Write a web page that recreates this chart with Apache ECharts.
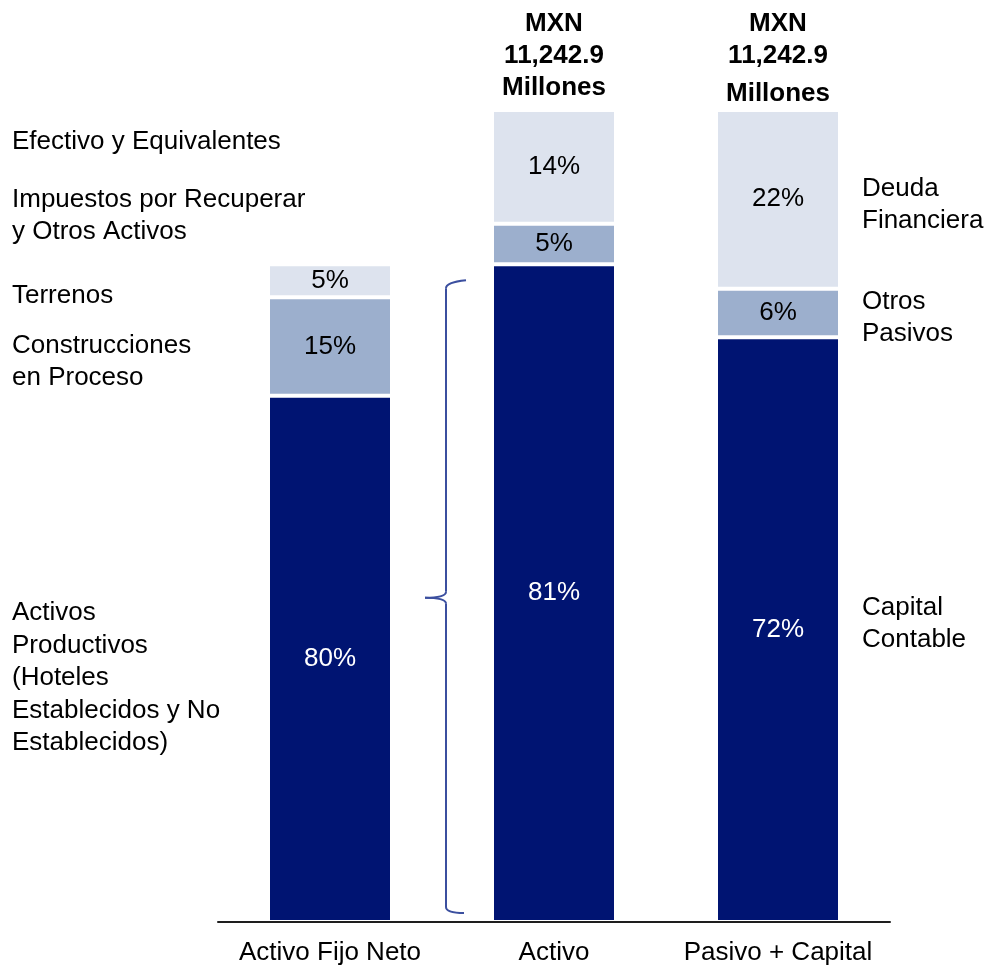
<!DOCTYPE html>
<html>
<head>
<meta charset="utf-8">
<style>
  html, body { margin: 0; padding: 0; background: #ffffff; }
  #chart { width: 988px; height: 967px; }
</style>
<script src="https://cdn.jsdelivr.net/npm/echarts@6/dist/echarts.min.js"></script>
</head>
<body>
<div id="chart"></div>
<script>
// Balance structure columns
const categories = ['Activo Fijo Neto', 'Activo', 'Pasivo + Capital'];

// Composition of each column, in percent of that column
const baseShares = [80, 81, 72];
const middleShares = [15, 5, 6];
const topShares = [5, 14, 22];

// Height of each column relative to total assets:
// net fixed assets are the 81% block of the asset column
const columnScale = [81, 100, 100];

// Total shown above the asset and liability columns
const totalLines = ['MXN', '11,242.9', 'Millones'];

// Side captions
const leftCaptions = [
  'Efectivo y Equivalentes',
  'Impuestos por Recuperar\ny Otros Activos',
  'Terrenos',
  'Construcciones\nen Proceso',
  'Activos\nProductivos\n(Hoteles\nEstablecidos y No\nEstablecidos)'
];
const rightCaptions = [
  'Deuda\nFinanciera',
  'Otros\nPasivos',
  'Capital\nContable'
];

const FONT = '"Liberation Sans", Arial, Helvetica, sans-serif';
const NAVY = '#001472';
const MID = '#9CAFCD';
const LIGHT = '#DDE3EE';
const BRACE = '#3B4F9F';

function scaled(shares) {
  return shares.map((s, i) => s * columnScale[i] / 100);
}

function segment(name, shares, color, textColor) {
  return {
    name: name,
    type: 'bar',
    stack: 'total',
    barWidth: 124,
    data: scaled(shares),
    itemStyle: { color: color, borderColor: '#ffffff', borderWidth: 2 },
    label: {
      show: true,
      position: 'inside',
      formatter: p => shares[p.dataIndex] + '%',
      fontFamily: FONT,
      fontSize: 26,
      color: textColor
    },
    emphasis: { disabled: true },
    silent: true
  };
}

const chart = echarts.init(document.getElementById('chart'), null, { renderer: 'canvas' });

chart.setOption({
  animation: false,
  backgroundColor: '#ffffff',
  grid: { left: 218, right: 98, top: 110, bottom: 45, containLabel: false },
  xAxis: {
    type: 'category',
    data: categories,
    z: 10,
    axisLine: { show: true, lineStyle: { color: '#1e1e1e', width: 2 } },
    axisTick: { show: false },
    axisLabel: {
      interval: 0,
      hideOverlap: false,
      margin: 18,
      fontFamily: FONT,
      fontSize: 26,
      lineHeight: 26,
      color: '#000000'
    },
    splitLine: { show: false }
  },
  yAxis: {
    type: 'value',
    min: 0,
    max: 100,
    show: false,
    splitLine: { show: false }
  },
  series: [
    segment('base', baseShares, NAVY, '#ffffff'),
    segment('middle', middleShares, MID, '#000000'),
    segment('top', topShares, LIGHT, '#000000')
  ]
});

// Annotations placed from the chart's own scales
const xOf = i => chart.convertToPixel({ xAxisIndex: 0 }, categories[i]);
const yOf = v => chart.convertToPixel({ yAxisIndex: 0 }, v);

const graphics = [];

function addText(x, y, text, opts) {
  graphics.push({
    type: 'text',
    x: x,
    y: y,
    silent: true,
    style: Object.assign({
      text: text,
      font: '26px ' + FONT,
      fill: '#000000',
      verticalAlign: 'middle',
      align: 'left',
      lineHeight: 32.6
    }, opts || {})
  });
}

// Left captions
const leftY = [142, 216, 296, 362, 678];
leftCaptions.forEach((t, i) => addText(12, leftY[i], t));

// Right captions
const rightY = [205, 318, 624];
rightCaptions.forEach((t, i) => addText(862, rightY[i], t));

// Totals above columns 2 and 3
const totalY = [[23.5, 56, 88], [23.5, 56, 94]];
[1, 2].forEach((ci, k) => {
  totalLines.forEach((t, j) => {
    addText(xOf(ci), totalY[k][j], t, { align: 'center', font: 'bold 26px ' + FONT });
  });
});

// Brace linking the fixed asset column to the asset block
const bx = (xOf(0) + xOf(1)) / 2 + 4;
const bt = yOf(columnScale[0]) + 18;
const bb = yOf(0) - 9;
const bm = (bt + bb) / 2;
const braceStyle = { stroke: BRACE, lineWidth: 2, fill: null };

function curve(x1, y1, cx, cy, x2, y2) {
  graphics.push({
    type: 'bezierCurve', silent: true,
    shape: { x1: x1, y1: y1, cpx1: cx, cpy1: cy, x2: x2, y2: y2 },
    style: braceStyle
  });
}
function segLine(x1, y1, x2, y2) {
  graphics.push({
    type: 'line', silent: true,
    shape: { x1: x1, y1: y1, x2: x2, y2: y2 },
    style: braceStyle
  });
}

curve(bx + 20, bt - 2, bx, bt, bx, bt + 6);
segLine(bx, bt + 6, bx, bm - 6);
curve(bx, bm - 6, bx, bm, bx - 21, bm);
curve(bx - 21, bm, bx, bm, bx, bm + 6);
segLine(bx, bm + 6, bx, bb - 6);
curve(bx, bb - 6, bx, bb, bx + 18, bb);

chart.setOption({ graphic: graphics });
</script>
</body>
</html>
